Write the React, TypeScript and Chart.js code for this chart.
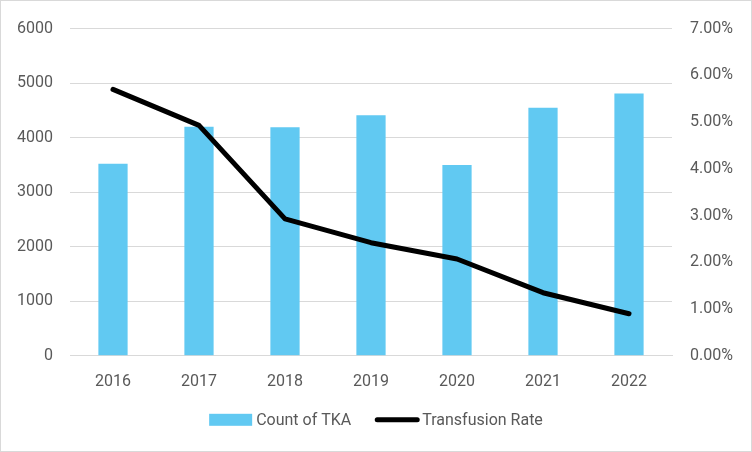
import React, { useEffect, useRef } from "react";
import { Chart, registerables } from "chart.js";

Chart.register(...registerables);

const years = ["2016", "2017", "2018", "2019", "2020", "2021", "2022"];
const countOfTKA = [3520, 4200, 4190, 4410, 3500, 4550, 4810];
const transfusionRate = [5.7, 4.93, 2.93, 2.42, 2.07, 1.35, 0.9];

const barColor = "#61c9f2";
const lineColor = "#000000";
const labelColor = "#595959";
const gridColor = "#d9d9d9";
const fontFamily = "Roboto, 'Liberation Sans', sans-serif";
const font = { family: fontFamily, size: 16 };

const bottomLegend = {
  id: "bottomLegend",
  afterDraw(chart: any) {
    const ctx = chart.ctx as CanvasRenderingContext2D;
    const ds = chart.data.datasets;
    const symW = 43;
    const gap = 4;
    const itemGap = 24;
    ctx.save();
    ctx.font = `16px ${fontFamily}`;
    ctx.textBaseline = "middle";
    const widths = ds.map((d: any) => symW + gap + ctx.measureText(d.label).width);
    const total = widths.reduce((a: number, b: number) => a + b, 0) + itemGap * (ds.length - 1);
    let x = (chart.width - total) / 2;
    const y = chart.chartArea.bottom + 64;
    ds.forEach((d: any, i: number) => {
      if (d.type === "line") {
        ctx.strokeStyle = d.borderColor;
        ctx.lineWidth = d.borderWidth;
        ctx.lineCap = "round";
        ctx.beginPath();
        ctx.moveTo(x + 2, y);
        ctx.lineTo(x + symW - 1, y);
        ctx.stroke();
      } else {
        ctx.fillStyle = d.backgroundColor;
        ctx.fillRect(x, y - 6, symW, 12);
      }
      ctx.fillStyle = labelColor;
      ctx.fillText(d.label, x + symW + gap, y + 1);
      x += widths[i] + itemGap;
    });
    ctx.restore();
  },
};

export default function App() {
  const ref = useRef<HTMLCanvasElement | null>(null);
  useEffect(() => {
    document.body.style.margin = "0";
    const ctx = ref.current!;
    const chart = new Chart(ctx, {
      type: "bar",
      data: {
        labels: years,
        datasets: [
          {
            type: "bar",
            label: "Count of TKA",
            data: countOfTKA,
            backgroundColor: barColor,
            barPercentage: 0.68,
            categoryPercentage: 0.5,
            yAxisID: "y",
            order: 2,
          },
          {
            type: "line",
            label: "Transfusion Rate",
            data: transfusionRate,
            borderColor: lineColor,
            backgroundColor: lineColor,
            borderWidth: 5,
            pointRadius: 0,
            tension: 0,
            borderJoinStyle: "round",
            borderCapStyle: "round",
            yAxisID: "y1",
            order: 1,
          } as any,
        ],
      },
      options: {
        animation: false,
        responsive: false,
        layout: { padding: { top: 22, left: 0, right: 0, bottom: 42 } },
        plugins: {
          tooltip: { enabled: false },
          legend: { display: false },
        },
        scales: {
          x: {
            grid: { display: false, drawTicks: false },
            border: { display: true, color: gridColor, width: 1 },
            ticks: { color: labelColor, font, padding: 17 },
          },
          y: {
            position: "left",
            min: 0,
            max: 6000,
            grid: { color: gridColor, drawTicks: false },
            border: { display: false },
            ticks: {
              color: labelColor,
              font,
              stepSize: 1000,
              padding: 17,
              callback: (v: any) => String(v),
            },
            afterFit: (s: any) => {
              s.width = 69;
            },
          },
          y1: {
            position: "right",
            min: 0,
            max: 7,
            grid: { display: false, drawTicks: false },
            border: { display: false },
            ticks: {
              color: labelColor,
              font,
              stepSize: 1,
              padding: 18,
              callback: (v: any) => Number(v).toFixed(2) + "%",
            },
            afterFit: (s: any) => {
              s.width = 79;
            },
          },
        },
      },
      plugins: [bottomLegend],
    });
    return () => chart.destroy();
  }, []);
  return (
    <div
      style={{
        position: "fixed",
        left: 0,
        top: 0,
        width: 752,
        height: 452,
        boxSizing: "border-box",
        border: "1px solid #d9d9d9",
        background: "#fff",
      }}
    >
      <canvas ref={ref} width={750} height={450} style={{ display: "block", width: 750, height: 450 }} />
    </div>
  );
}
